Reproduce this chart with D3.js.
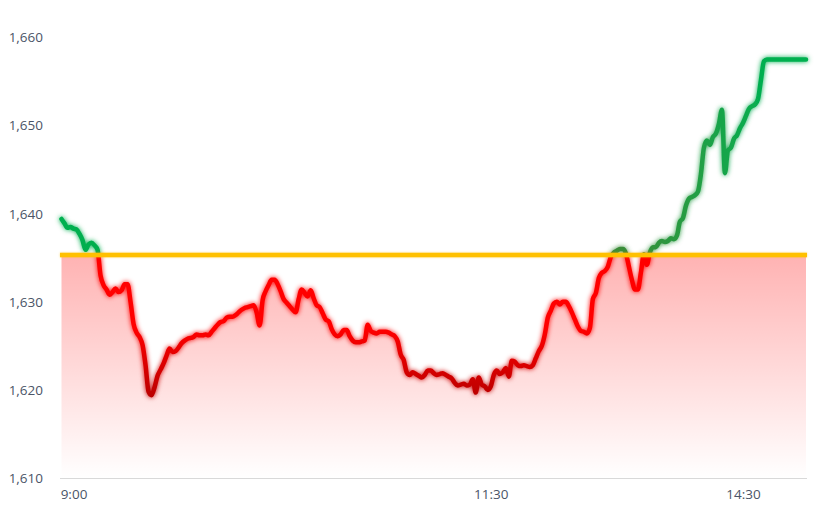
<!DOCTYPE html>
<html>
<head>
<meta charset="utf-8">
<script src="https://cdn.jsdelivr.net/npm/d3@7"></script>
<style>
  html, body { margin: 0; padding: 0; background: #ffffff; }
  svg { display: block; }
  text { font-family: "Open Sans", "Noto Sans", sans-serif; }
</style>
</head>
<body>
<svg id="chart" width="832" height="509"></svg>
<script>
// ---- data ----
const prices = [
  1639.4,1638.9,1638.4,1638.5,1638.3,1638.2,1637.7,1637.0,1635.9,1636.5,
  1636.7,1636.4,1635.9,1633.0,1631.9,1631.4,1630.8,1631.1,1631.5,1631.1,
  1631.3,1632.0,1632.0,1630.0,1627.5,1626.5,1626.0,1625.1,1622.8,1619.8,
  1619.4,1620.3,1621.6,1622.3,1623.0,1623.9,1624.7,1624.3,1624.4,1624.8,
  1625.3,1625.6,1625.8,1625.9,1626.0,1626.3,1626.2,1626.2,1626.3,1626.2,
  1626.6,1627.0,1627.4,1627.7,1627.8,1628.2,1628.3,1628.3,1628.5,1628.8,
  1629.1,1629.3,1629.4,1629.5,1629.6,1628.8,1627.3,1630.2,1631.2,1631.9,
  1632.5,1632.5,1632.0,1631.2,1630.3,1629.9,1629.5,1629.1,1628.8,1630.3,
  1631.4,1631.0,1630.6,1631.3,1630.4,1629.6,1629.4,1628.7,1628.0,1627.8,
  1626.9,1626.3,1626.1,1626.3,1626.8,1626.8,1626.1,1625.6,1625.4,1625.4,
  1625.5,1625.6,1627.4,1626.7,1626.5,1626.4,1626.6,1626.6,1626.6,1626.5,
  1626.3,1626.1,1625.5,1624.0,1623.4,1622.0,1621.7,1622.0,1621.8,1621.6,
  1621.4,1621.7,1622.2,1622.2,1621.9,1621.7,1621.8,1621.9,1621.7,1621.5,
  1621.3,1620.8,1620.5,1620.6,1620.7,1620.5,1620.6,1621.2,1619.7,1621.4,
  1620.6,1620.4,1620.0,1620.4,1621.7,1622.2,1621.8,1622.0,1622.5,1621.5,
  1623.3,1623.2,1622.8,1622.7,1622.8,1622.7,1622.6,1622.8,1623.6,1624.4,
  1625.0,1626.3,1628.2,1629.0,1629.8,1630.0,1629.7,1630.0,1630.0,1629.5,
  1628.8,1628.0,1627.2,1626.7,1626.6,1626.4,1627.0,1630.3,1631.0,1632.7,
  1633.3,1633.5,1634.0,1635.1,1635.6,1635.8,1636.0,1636.0,1635.5,1634.0,
  1632.5,1631.4,1631.4,1633.3,1635.4,1634.2,1635.6,1636.2,1636.2,1636.7,
  1636.9,1636.8,1636.9,1637.2,1637.1,1637.5,1639.1,1639.5,1640.9,1641.7,
  1641.9,1642.1,1642.5,1644.5,1647.5,1648.3,1647.8,1648.7,1649.1,1650.2,
  1651.8,1644.6,1647.2,1647.5,1648.5,1648.9,1649.7,1650.3,1651.1,1651.9,
  1652.2,1652.4,1653.0,1655.2,1657.3,1657.5,1657.5,1657.5,1657.5,1657.5,
  1657.5,1657.5,1657.5,1657.5,1657.5,1657.5,1657.5,1657.5,1657.5
];
const prevClose = 1635.3;
const yTicks = [1610, 1620, 1630, 1640, 1650, 1660];
const xTickLabels = ["9:00", "11:30", "14:30"];
const xTickIndex = [4, 143, 227];

// ---- layout ----
const svg = d3.select("#chart");
const x = d3.scaleLinear().domain([0, prices.length - 1]).range([61.5, 806]);
const y = d3.scaleLinear().domain([1610, 1660]).range([478, 37.5]);

const defs = svg.append("defs");

// area gradient
const ag = defs.append("linearGradient").attr("id", "areaGrad")
  .attr("gradientUnits", "userSpaceOnUse")
  .attr("x1", 0).attr("x2", 0).attr("y1", y(prevClose)).attr("y2", y(1610));
ag.append("stop").attr("offset", 0).attr("stop-color", "#ff0000").attr("stop-opacity", 0.30);
ag.append("stop").attr("offset", 1).attr("stop-color", "#ff0000").attr("stop-opacity", 0.0);

// red line gradient (by value)
const rg = defs.append("linearGradient").attr("id", "redGrad")
  .attr("gradientUnits", "userSpaceOnUse")
  .attr("x1", 0).attr("x2", 0).attr("y1", y(1627)).attr("y2", y(1619));
rg.append("stop").attr("offset", 0).attr("stop-color", "#ff0000");
rg.append("stop").attr("offset", 1).attr("stop-color", "#b80000");

// green line gradient (horizontal)
const gg = defs.append("linearGradient").attr("id", "greenGrad")
  .attr("gradientUnits", "userSpaceOnUse")
  .attr("x1", x(0)).attr("x2", x(prices.length - 1)).attr("y1", 0).attr("y2", 0);
[[0, "#00b050"], [0.08, "#0aac4c"], [0.75, "#3a8c38"], [0.85, "#249e44"], [0.92, "#0caa4e"], [0.95, "#00b050"], [1, "#00b050"]]
  .forEach(([o, c]) => gg.append("stop").attr("offset", o).attr("stop-color", c));

// glow filter (user space so flat shapes are not lost)
function glow(id, sd, op) {
  const f = defs.append("filter").attr("id", id)
    .attr("filterUnits", "userSpaceOnUse")
    .attr("x", 0).attr("y", 0).attr("width", 832).attr("height", 509);
  f.append("feGaussianBlur").attr("in", "SourceGraphic").attr("stdDeviation", sd).attr("result", "b");
  const ct = f.append("feComponentTransfer").attr("in", "b").attr("result", "bb");
  ct.append("feFuncA").attr("type", "linear").attr("slope", op);
  const m = f.append("feMerge");
  m.append("feMergeNode").attr("in", "bb");
  m.append("feMergeNode").attr("in", "SourceGraphic");
}
glow("glowR", 2.8, 1.0);
glow("glowG", 2.8, 1.0);
glow("glowO", 1.2, 0.5);

defs.append("clipPath").attr("id", "below").append("rect")
  .attr("x", 0).attr("width", 832).attr("y", y(prevClose)).attr("height", 509 - y(prevClose));
defs.append("clipPath").attr("id", "above").append("rect")
  .attr("x", 0).attr("width", 832).attr("y", 0).attr("height", y(prevClose));

// area under min(price, prevClose)
const area = d3.area()
  .x((d, i) => x(i))
  .y0(y(1610))
  .y1(d => y(Math.min(d, prevClose)));
svg.append("path").datum(prices).attr("d", area).attr("fill", "url(#areaGrad)");

// bottom axis line
svg.append("line")
  .attr("x1", x(0) - 1.5).attr("x2", x(prices.length - 1) + 1)
  .attr("y1", y(1610) + 0.5).attr("y2", y(1610) + 0.5)
  .attr("stroke", "#d9d9d9").attr("stroke-width", 1);

// price lines
const line = d3.line().x((d, i) => x(i)).y(d => y(d)).curve(d3.curveMonotoneX);
svg.append("g").attr("filter", "url(#glowG)")
  .append("path").datum(prices).attr("d", line)
  .attr("clip-path", "url(#above)")
  .attr("fill", "none").attr("stroke", "url(#greenGrad)")
  .attr("stroke-width", 4.5).attr("stroke-linejoin", "round").attr("stroke-linecap", "round");
svg.append("g").attr("filter", "url(#glowR)")
  .append("path").datum(prices).attr("d", line)
  .attr("clip-path", "url(#below)")
  .attr("fill", "none").attr("stroke", "url(#redGrad)")
  .attr("stroke-width", 4.5).attr("stroke-linejoin", "round").attr("stroke-linecap", "round");

// previous close line
svg.append("g").attr("filter", "url(#glowO)")
  .append("line")
  .attr("x1", x(0) - 1.5).attr("x2", x(prices.length - 1) + 1)
  .attr("y1", y(prevClose)).attr("y2", y(prevClose))
  .attr("stroke", "#ffc000").attr("stroke-width", 4.5);

// y axis labels
const yAxis = d3.axisLeft(y).tickValues(yTicks).tickSize(0).tickPadding(0)
  .tickFormat(d3.format(","));
const gy = svg.append("g").attr("transform", "translate(43,0)").call(yAxis);
gy.select(".domain").remove();
gy.selectAll("text").attr("fill", "#4b5567").style("font-size", "13.5px")
  .style("font-family", "'Open Sans', 'Noto Sans', sans-serif");

// x axis labels
const xAxis = d3.axisBottom(x).tickValues(xTickIndex).tickSize(0).tickPadding(0)
  .tickFormat((d, i) => xTickLabels[i]);
const gx = svg.append("g").attr("transform", `translate(0,${y(1610) + 11})`).call(xAxis);
gx.select(".domain").remove();
gx.selectAll("text").attr("fill", "#4b5567").style("font-size", "13.5px")
  .style("font-family", "'Open Sans', 'Noto Sans', sans-serif");
</script>
</body>
</html>
